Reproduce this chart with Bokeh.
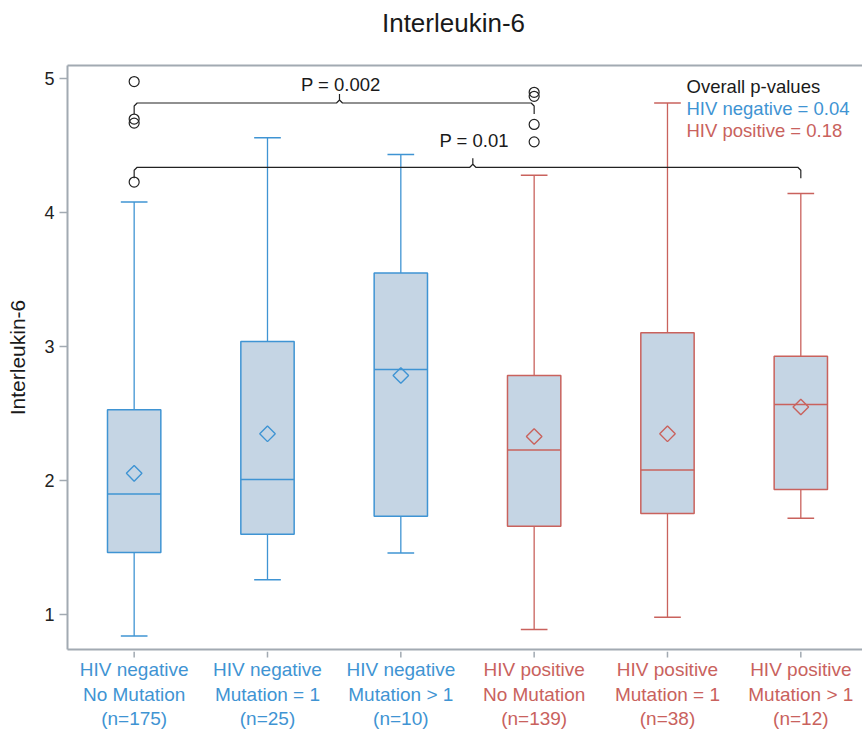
import numpy as np
from bokeh.plotting import figure
from bokeh.layouts import column
from bokeh.models import Range1d, LinearAxis, FixedTicker, Label
from bokeh.core.properties import value
from bokeh.embed import file_html
from bokeh.resources import INLINE

# ---------------- data ----------------
hiv_status = ["HIV negative", "HIV negative", "HIV negative",
              "HIV positive", "HIV positive", "HIV positive"]
mutation = ["No Mutation", "Mutation = 1", "Mutation > 1",
            "No Mutation", "Mutation = 1", "Mutation > 1"]
n_counts = [175, 25, 10, 139, 38, 12]

lower_whisker = [0.84, 1.26, 1.46, 0.89, 0.98, 1.72]
q1 = [1.465, 1.60, 1.735, 1.66, 1.755, 1.935]
median = [1.90, 2.01, 2.83, 2.23, 2.08, 2.57]
q3 = [2.53, 3.04, 3.55, 2.785, 3.105, 2.93]
upper_whisker = [4.08, 4.56, 4.435, 4.28, 4.82, 4.145]
mean = [2.055, 2.35, 2.785, 2.33, 2.35, 2.55]

outlier_group = [1, 1, 1, 1, 4, 4, 4, 4]
outlier_value = [4.98, 4.70, 4.67, 4.23, 4.90, 4.87, 4.66, 4.53]

y_ticks = [1, 2, 3, 4, 5]

comp_from = [1, 1]
comp_to = [4, 6]
comp_text = ["P = 0.002", "P = 0.01"]
comp_level = [4.82, 4.34]

legend_title = "Overall p-values"
legend_lines = ["HIV negative = 0.04", "HIV positive = 0.18"]

title_text = "Interleukin-6"
y_label = "Interleukin-6"

# ---------------- style / layout ----------------
BLUE = "#3f94d3"
RED = "#c9625d"
FILL = "#c5d5e4"
AXIS = "#a2aab2"
INK = "#1a1a1a"
FONT = "Liberation Sans"

W = 862
ML = 67
HEAD_H = 40
MT, FH, MB = 25, 584, 2
MAIN_H = MT + FH + MB
LAB_H = 81
FRAME_TOP = HEAD_H + MT
LAB_TOP = HEAD_H + MAIN_H
FW = W - ML
X0 = 0.5
PXX = 133.33
X1 = X0 + FW / PXX
Y0, Y1 = 0.74, 5.10
PXY = FH / (Y1 - Y0)

def ypage(py):
    return Y1 - (py - FRAME_TOP) / PXY

def xpage(px):
    return X0 + (px - ML) / PXX

xr = Range1d(X0, X1)

def blank_fig(h, yr):
    f = figure(width=W, height=h, output_backend="svg", toolbar_location=None,
               x_range=xr, y_range=yr, min_border_left=ML, min_border_right=0,
               min_border_top=0, min_border_bottom=0,
               x_axis_type=None, y_axis_type=None)
    f.outline_line_color = None
    f.xgrid.visible = False
    f.ygrid.visible = False
    return f

# ---- header (title) ----
head = blank_fig(HEAD_H, Range1d(HEAD_H, 0))
head.text(x=[xpage(453)], y=[22], text=[title_text], text_align="center",
          text_baseline="middle", text_font=value(FONT), text_font_size="26px",
          text_color=INK)

# ---- main plot ----
p = figure(width=W, height=MAIN_H, output_backend="svg", toolbar_location=None,
           x_range=xr, y_range=Range1d(Y0, Y1),
           min_border_left=ML, min_border_right=0, min_border_top=MT,
           min_border_bottom=MB, x_axis_type=None, y_axis_type=None)
p.outline_line_color = None
p.xgrid.visible = False
p.ygrid.visible = False

xs = list(range(1, 7))
colors = [BLUE if s == "HIV negative" else RED for s in hiv_status]

p.segment(x0=xs, y0=q3, x1=xs, y1=upper_whisker, line_color=colors, line_width=1.3)
p.segment(x0=xs, y0=q1, x1=xs, y1=lower_whisker, line_color=colors, line_width=1.3)
cap = 0.1
p.segment(x0=[x - cap for x in xs], y0=upper_whisker, x1=[x + cap for x in xs],
          y1=upper_whisker, line_color=colors, line_width=1.5)
p.segment(x0=[x - cap for x in xs], y0=lower_whisker, x1=[x + cap for x in xs],
          y1=lower_whisker, line_color=colors, line_width=1.5)
p.vbar(x=xs, width=0.4, bottom=q1, top=q3, fill_color=FILL, line_color=colors, line_width=1.5)
hw = 0.2
p.segment(x0=[x - hw for x in xs], y0=median, x1=[x + hw for x in xs], y1=median,
          line_color=colors, line_width=1.5)
p.scatter(x=xs, y=mean, marker="square", angle=np.pi / 4, size=11,
          fill_color=None, line_color=colors, line_width=1.4)
p.scatter(x=outlier_group, y=outlier_value, marker="circle", size=10,
          fill_color=None, line_color="#222222", line_width=1.2)

# comparison braces
bx, by = [], []
drop = 11 / PXY
rise = 9 / PXY
cr = 3 / PXX
cy = 3 / PXY
for a, b, lvl in zip(comp_from, comp_to, comp_level):
    m = (a + b) / 2 + 0.04
    bx.append([a, a, a + cr, m - cr, m, m])
    by.append([lvl - drop, lvl - cy, lvl, lvl, lvl + cy, lvl + rise])
    bx.append([m, m + cr, b - cr, b, b])
    by.append([lvl + cy, lvl, lvl, lvl - cy, lvl - drop])
p.multi_line(xs=bx, ys=by, line_color="#222222", line_width=1.2)

text_above = [19, 27]
for a, b, lvl, t, up in zip(comp_from, comp_to, comp_level, comp_text, text_above):
    m = (a + b) / 2 + 0.05
    p.add_layout(Label(x=m, y=lvl + up / PXY, text=t, text_align="center",
                       text_baseline="middle", text_font=FONT,
                       text_font_size="18.5px", text_color=INK))

leg_x = xpage(686)
p.add_layout(Label(x=leg_x, y=ypage(86), text=legend_title, text_align="left",
                   text_baseline="middle", text_font=FONT, text_font_size="18.5px",
                   text_color=INK))
for i, (t, c) in enumerate(zip(legend_lines, [BLUE, RED])):
    p.add_layout(Label(x=leg_x, y=ypage(108 + 22 * i), text=t, text_align="left",
                       text_baseline="middle", text_font=FONT, text_font_size="18.5px",
                       text_color=c))

yaxis = LinearAxis(ticker=FixedTicker(ticks=y_ticks))
yaxis.axis_label = y_label
yaxis.axis_label_text_font = FONT
yaxis.axis_label_text_font_size = "21px"
yaxis.axis_label_text_font_style = "normal"
yaxis.axis_label_text_color = INK
yaxis.axis_label_standoff = 12
yaxis.major_label_text_font = FONT
yaxis.major_label_text_font_size = "18px"
yaxis.major_label_text_color = "#222222"
yaxis.major_label_standoff = 5
p.add_layout(yaxis, "left")

# bottom and top frame lines (no ticks, no labels)
xaxis = LinearAxis(ticker=FixedTicker(ticks=[]))
p.add_layout(xaxis, "below")
topaxis = LinearAxis(ticker=FixedTicker(ticks=[]))
p.add_layout(topaxis, "above")

for ax in (yaxis, xaxis, topaxis):
    ax.axis_line_color = AXIS
    ax.axis_line_width = 2
    ax.major_tick_line_color = AXIS
    ax.major_tick_line_width = 1.5
    ax.major_tick_in = 0
    ax.major_tick_out = 8
    ax.minor_tick_line_color = None
for ax in (xaxis, topaxis):
    ax.major_tick_out = 0
    ax.major_label_standoff = 0

# ---- category ticks and labels ----
lab = blank_fig(LAB_H, Range1d(LAB_H, 0))
tick_end = 657 - LAB_TOP
lab.segment(x0=xs, y0=[0] * len(xs), x1=xs, y1=[tick_end] * len(xs),
            line_color=AXIS, line_width=1.5)
lx, ly, lt, lc = [], [], [], []
for x, s, mu, n, c in zip(xs, hiv_status, mutation, n_counts, colors):
    for j, t in enumerate([s, mu, "(n=%d)" % n]):
        lx.append(x)
        ly.append(669 - LAB_TOP + 24.5 * j)
        lt.append(t)
        lc.append(c)
lab.text(x=lx, y=ly, text=lt, text_color=lc, text_align="center",
         text_baseline="middle", text_font=value(FONT), text_font_size="19px")

layout = column(head, p, lab, spacing=0)
open("out.html", "w").write(file_html(layout, INLINE))
